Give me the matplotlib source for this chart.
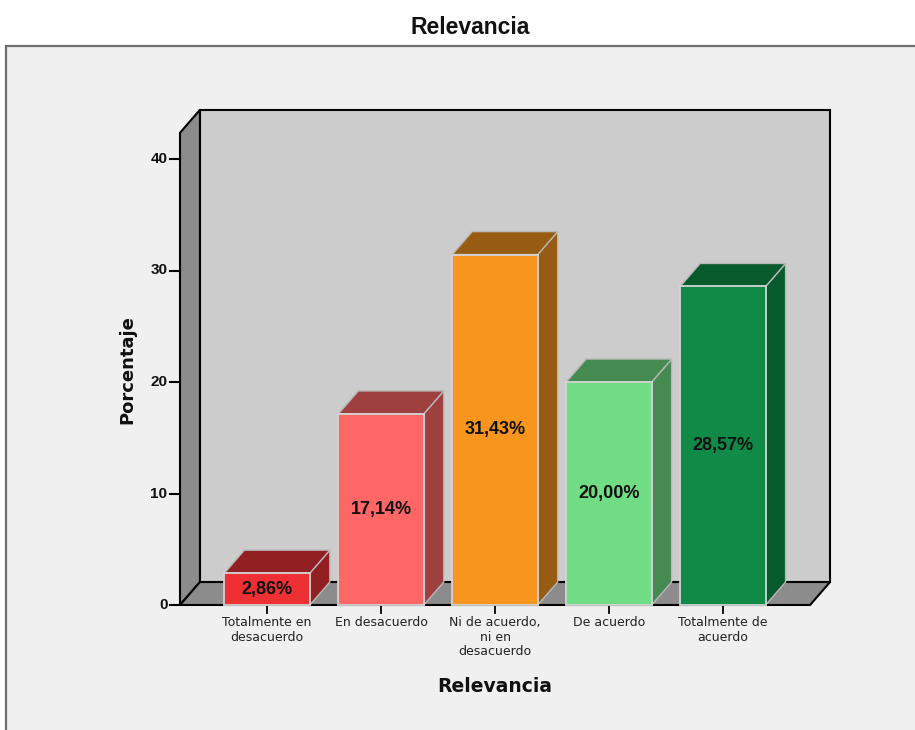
import matplotlib
matplotlib.use("Agg")
import matplotlib.pyplot as plt
from matplotlib.patches import Polygon, Rectangle

# --- data ---------------------------------------------------------------
categories = [
    "Totalmente en\ndesacuerdo",
    "En desacuerdo",
    "Ni de acuerdo,\nni en\ndesacuerdo",
    "De acuerdo",
    "Totalmente de\nacuerdo",
]
percentages = [2.86, 17.14, 31.43, 20.00, 28.57]
value_labels = ["2,86%", "17,14%", "31,43%", "20,00%", "28,57%"]
y_ticks = [0, 10, 20, 30, 40]

front_colors = ["#ee3035", "#ff6666", "#f7951e", "#70dd85", "#0f8b47"]
shade_colors = ["#921f22", "#9e3f40", "#985b12", "#448a51", "#075a2b"]

# --- styling constants --------------------------------------------------
plt.rcParams["font.family"] = ["Liberation Sans", "DejaVu Sans"]
BAR_W = 0.75          # bar width in category units
DX, DY = 0.175, 2.06  # oblique depth offset (category units, percent units)
X0, X1 = -0.765, 4.765
TOP = 42.35

fig = plt.figure(figsize=(9.15, 7.3), dpi=100)
fig.patch.set_facecolor("white")

# outer chart frame
frame = Rectangle((6 / 915, -0.05), 1.2, 1 - 46 / 730 + 0.05,
                  transform=fig.transFigure, facecolor="#f0f0f0",
                  edgecolor="#6e6e6e", lw=1.6, zorder=-5)
fig.patches.append(frame)

fig.text(470 / 915, 1 - 28 / 730, "Relevancia", ha="center", va="center",
         fontsize=16.5, fontweight="bold", color="#111111")

ax = fig.add_axes([180 / 915, 125 / 730, 650 / 915, (TOP + DY) * 11.15 / 730])
ax.set_zorder(2)
ax.set_axis_off()
ax.set_xlim(X0, X1 + DX)
ax.set_ylim(0, TOP + DY)

edge = dict(edgecolor="black", lw=1.5, joinstyle="miter")

# back wall
ax.add_patch(Rectangle((X0 + DX, DY), X1 - X0, TOP, facecolor="#cccccc",
                       zorder=1, clip_on=False, **edge))
# left wall
ax.add_patch(Polygon([(X0, 0), (X0, TOP), (X0 + DX, TOP + DY), (X0 + DX, DY)],
                     closed=True, facecolor="#8c8c8c", zorder=2,
                     clip_on=False, **edge))
# floor
ax.add_patch(Polygon([(X0, 0), (X1, 0), (X1 + DX, DY), (X0 + DX, DY)],
                     closed=True, facecolor="#8c8c8c", zorder=2,
                     clip_on=False, **edge))

# y ticks and labels
for t in y_ticks:
    ax.plot([X0 - 0.085, X0], [t, t], color="black", lw=1.5,
            clip_on=False, zorder=3)
    ax.text(X0 - 0.11, t, str(t), ha="right", va="center", fontsize=11,
            fontweight="bold", color="#111111")

# bars
for i, (v, fc, sc, lab) in enumerate(zip(percentages, front_colors,
                                         shade_colors, value_labels)):
    xl, xr = i - BAR_W / 2, i + BAR_W / 2
    z = 4 + i
    ax.add_patch(Polygon([(xr, 0), (xr, v), (xr + DX, v + DY), (xr + DX, DY)],
                         closed=True, facecolor=sc, edgecolor="#b8b8b8",
                         lw=1.0, zorder=z, clip_on=False))
    ax.add_patch(Polygon([(xl, v), (xr, v), (xr + DX, v + DY), (xl + DX, v + DY)],
                         closed=True, facecolor=sc, edgecolor="#b8b8b8",
                         lw=1.0, zorder=z, clip_on=False))
    ax.add_patch(Rectangle((xl, 0), BAR_W, v, facecolor=fc,
                           edgecolor="#d4d4d4", lw=1.3, zorder=z + 0.5,
                           clip_on=False))
    ax.text(i, v / 2, lab, ha="center", va="center", fontsize=13,
            fontweight="bold", color="#111111", zorder=20)
    # category tick and label
    ax.plot([i, i], [-0.1, -0.72], color="black", lw=1.3, clip_on=False)
    ax.text(i, -1.0, categories[i], ha="center", va="top", fontsize=9,
            family="DejaVu Sans", color="#222222", linespacing=1.15)

fig.text(495 / 915, 1 - 686 / 730, "Relevancia", ha="center", va="center",
         fontsize=13.5, fontweight="bold", family="DejaVu Sans",
         color="#111111")
fig.text(127 / 915, 1 - 370 / 730, "Porcentaje", ha="center", va="center",
         rotation=90, fontsize=13, fontweight="bold", family="DejaVu Sans",
         color="#111111")

fig.savefig("out.png", dpi=100, facecolor=fig.get_facecolor())
